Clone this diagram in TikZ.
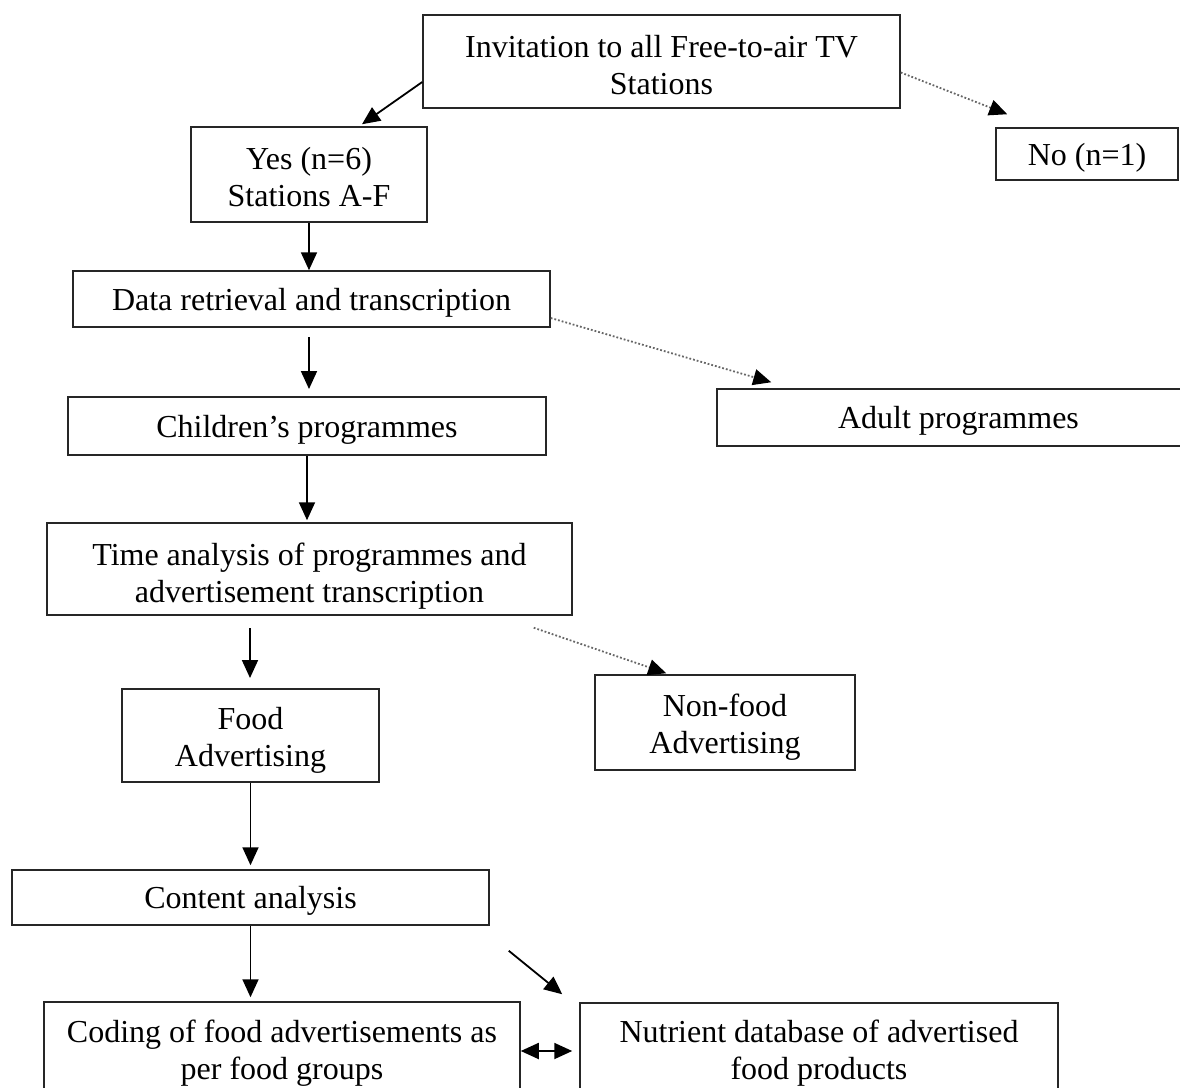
\documentclass[tikz,border=0pt]{standalone}
\usepackage{fontspec}
\setmainfont{Liberation Serif}
\usetikzlibrary{arrows.meta}
\newcommand\mystrut[1]{\vrule width0pt height#1 depth0pt\relax}
\begin{document}
\begin{tikzpicture}[x=0.5pt,y=-0.5pt,
  box/.style={draw=black!85, line width=0.75pt, rectangle, inner sep=0pt, align=center,
    font=\fontsize{16}{18.5}\selectfont,
    execute at begin node={\vrule width0pt height16pt depth0pt\relax},
    execute at end node={\vrule width0pt height0pt depth5pt\relax}},
  arr/.style={line width=0.9pt, -{Triangle[length=9pt,width=8pt]}},
  dotarr/.style={line width=0.9pt, densely dotted, draw=black!60, -{Triangle[length=9pt,width=8pt,fill=black,color=black]}},
  dblarr/.style={line width=0.9pt, {Triangle[length=9pt,width=8pt]}-{Triangle[length=9pt,width=8pt]}}]
\useasboundingbox (0,0) rectangle (1180,1088);
\clip (0,0) rectangle (1180,1088);
\node[box, minimum width=238.5pt, minimum height=46.5pt] (inv) at (661.5,61.5) {\mystrut{19.5pt}Invitation to all Free-to-air TV\\Stations};
\node[box, minimum width=91pt, minimum height=26pt] (no) at (1087,154) {No (n=1)};
\node[box, minimum width=118pt, minimum height=47.5pt] (yes) at (309,174.5) {\mystrut{18.5pt}Yes (n=6)\\Stations A-F};
\node[box, minimum width=238.5pt, minimum height=28pt] (data) at (311.5,299) {Data retrieval and transcription};
\node[box, minimum width=241.5pt, minimum height=28.5pt] (adult) at (958.5,417.5) {Adult programmes};
\node[box, minimum width=239pt, minimum height=29pt] (child) at (307,426) {Children’s programmes};
\node[box, minimum width=262.5pt, minimum height=46pt] (time) at (309.5,569) {\mystrut{19.5pt}Time analysis of programmes and\\advertisement transcription};
\node[box, minimum width=128.5pt, minimum height=46.5pt] (food) at (250.5,735.5) {\mystrut{17.5pt}Food\\Advertising};
\node[box, minimum width=130pt, minimum height=47.5pt] (nonfood) at (725,722.5) {\mystrut{17.5pt}Non-food\\Advertising};
\node[box, minimum width=238.5pt, minimum height=27.5pt] (content) at (250.5,897.5) {Content analysis};
\node[box, minimum width=238pt, minimum height=49pt] (coding) at (282,1051) {\mystrut{14.5pt}Coding of food advertisements as\\per food groups};
\node[box, minimum width=239pt, minimum height=48.5pt] (nutr) at (819,1051.5) {\mystrut{14.5pt}Nutrient database of advertised\\food products};
\coordinate (f1s) at (309,337);
\coordinate (f1e) at (309,389);
\coordinate (f2s) at (250,628);
\coordinate (f2e) at (250,678);
\draw[arr] ([yshift=-10.25pt]inv.west) -- ([xshift=26.5pt,yshift=1pt]yes.north);
\draw[dotarr] ([yshift=-5.5pt]inv.east) -- ([shift={(6pt,6.5pt)}]no.north west);
\draw[arr] (yes.south) -- (yes.south |- data.north);
\draw[dotarr] ([yshift=-9.5pt]data.east) -- ([shift={(27.5pt,3pt)}]adult.north west);
\draw[arr] (f1s) -- (f1e);
\draw[arr] (child.south) -- ([yshift=1pt]child.south |- time.north);
\draw[arr] (f2s) -- (f2e);
\draw[dotarr] ([shift={(-19.5pt,-6pt)}]time.south east) -- ([shift={(36pt,0.5pt)}]nonfood.north west);
\draw[arr] (food.south) -- ([yshift=2pt]food.south |- content.north);
\draw[arr] (content.south) -- ([yshift=2pt]content.south |- coding.north);
\draw[arr] ([shift={(9.5pt,-12.5pt)}]content.south east) -- ([shift={(-8.5pt,4pt)}]nutr.north west);
\draw[dblarr] (coding.east) -- ([xshift=-3.5pt]coding.east -| nutr.west);
\end{tikzpicture}
\end{document}
